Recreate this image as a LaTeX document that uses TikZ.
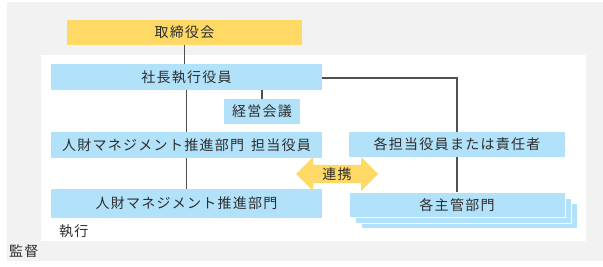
\documentclass[tikz,border=0pt]{standalone}
\usepackage{fontspec}
\setmainfont[LetterSpace=9]{Noto Sans CJK JP}
\usetikzlibrary{shapes.arrows}
\definecolor{bgGray}{RGB}{242,242,242}
\definecolor{boxBlue}{RGB}{178,226,250}
\definecolor{boxYellow}{RGB}{255,217,102}
\definecolor{lineGray}{RGB}{80,80,80}
\definecolor{txt}{RGB}{45,45,45}
\tikzset{
  box/.style={rectangle, inner sep=0pt, text=txt, font=\fontsize{14}{15}\selectfont},
  bluebox/.style={box, fill=boxBlue},
  yellowbox/.style={box, fill=boxYellow},
  conn/.style={draw=lineGray, line width=1.1pt},
  lbl/.style={inner sep=0pt, text=txt, font=\fontsize{14}{15}\selectfont, anchor=west},
}
\begin{document}
\begin{tikzpicture}[x=1pt, y=-1pt]
\useasboundingbox (0,0) rectangle (603,267);
\fill[white] (0,0) rectangle (603,267);
\fill[bgGray] (7,2) rectangle (603,261);
\fill[white] (41,55) rectangle (586,241);

\node[yellowbox, minimum width=235pt, minimum height=25pt] (board) at (184.5,32.5) {取締役会};
\node[bluebox, minimum width=271pt, minimum height=26pt] (pres) at (186.5,77) {社長執行役員};
\node[bluebox, minimum width=76pt, minimum height=25pt] (mtg) at (262,111.5) {経営会議};
\node[bluebox, minimum width=271pt, minimum height=26pt] (hrexec) at (186.5,145) {人財マネジメント推進部門\hspace{0.5em}担当役員};
\node[bluebox, minimum width=271pt, minimum height=29pt] (hrdept) at (186.5,203.5) {人財マネジメント推進部門};
\node[bluebox, minimum width=216pt, minimum height=25pt] (others) at (457,144.5) {各担当役員または責任者};

\node[box, fill=boxBlue, draw=white, line width=1pt, minimum width=216pt, minimum height=25pt] (stack2) at (469,216.5) {};
\node[box, fill=boxBlue, draw=white, line width=1pt, minimum width=216pt, minimum height=25pt] (stack1) at (463,211) {};
\node[box, fill=boxBlue, draw=white, line width=1pt, minimum width=216pt, minimum height=25pt] (depts) at (457,205.5) {各主管部門};

\node[double arrow, fill=boxYellow, minimum height=82pt, minimum width=34pt, inner sep=2pt, double arrow head extend=7.5pt, text=txt, font=\fontsize{14}{15}\selectfont] (link) at (337,174) {連携};

\draw[conn] (board.south) -- (board.south |- pres.north);
\draw[conn] (mtg.north) -- (mtg.north |- pres.south);
\draw[conn] (hrexec.north) -- (hrexec.north |- pres.south);
\draw[conn] (hrexec.south) -- (hrdept.north);
\draw[conn] ([yshift=-1pt]pres.east) -| (others.north);
\draw[conn] (others.south) -- (depts.north);

\node[lbl] (exec) at (59,231) {執行};
\node[lbl] (superv) at (9,251) {監督};
\end{tikzpicture}
\end{document}
